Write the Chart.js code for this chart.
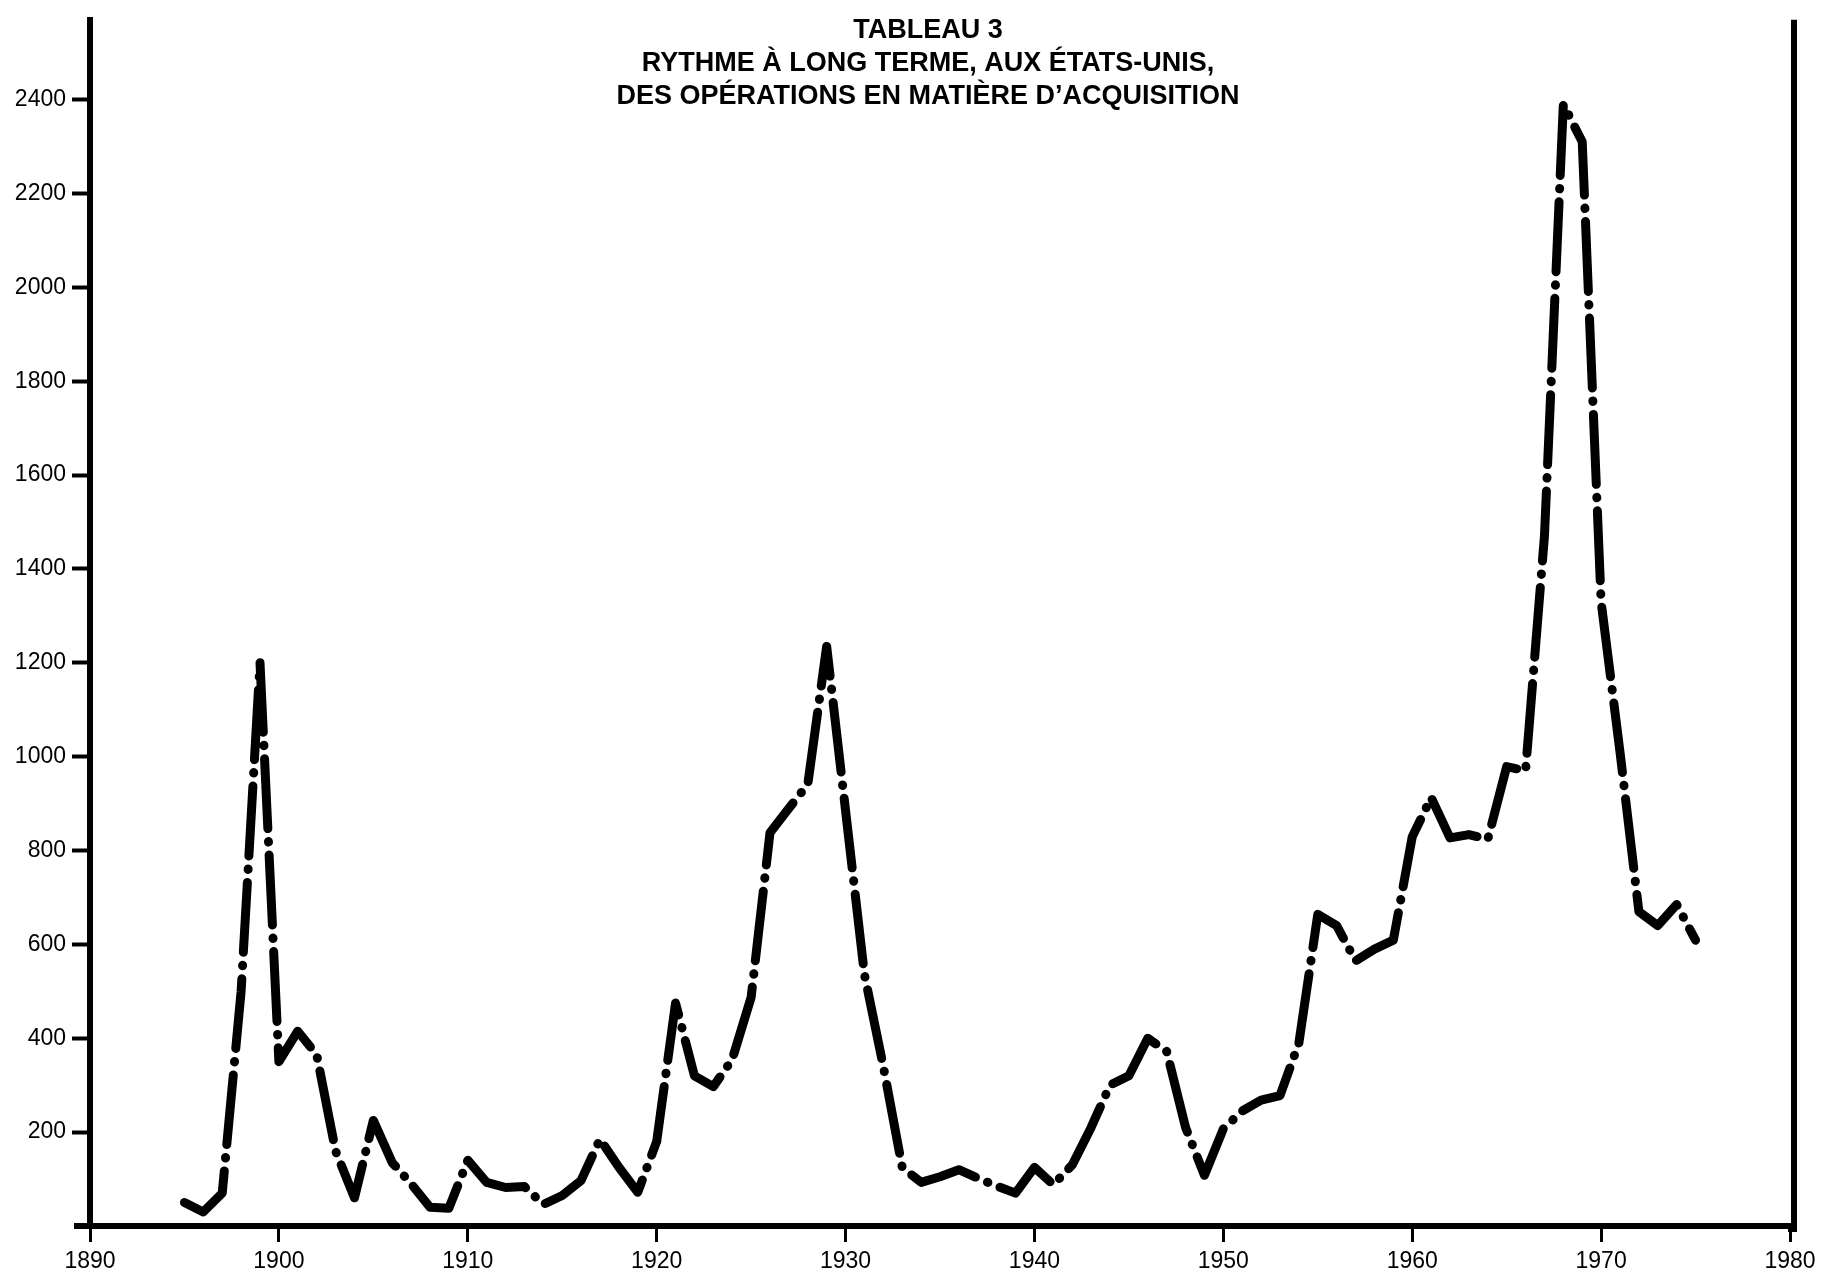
<!DOCTYPE html>
<html>
<head>
<meta charset="utf-8">
<title>Tableau 3</title>
<script src="https://cdn.jsdelivr.net/npm/chart.js@4/dist/chart.umd.min.js"></script>
<style>
  html, body { margin: 0; padding: 0; background: #fff; }
  canvas { display: block; }
</style>
</head>
<body>
<canvas id="chart" width="1834" height="1282"></canvas>
<script>
const titleLines = ["TABLEAU 3", "RYTHME À LONG TERME, AUX ÉTATS-UNIS,", "DES OPÉRATIONS EN MATIÈRE D’ACQUISITION"]

const years = [
    1895, 1896, 1897, 1898, 1899, 1900, 1901, 1902, 1903, 1904,
    1905, 1906, 1907, 1908, 1909, 1910, 1911, 1912, 1913, 1914,
    1915, 1916, 1917, 1918, 1919, 1920, 1921, 1922, 1923, 1924,
    1925, 1926, 1927, 1928, 1929, 1930, 1931, 1932, 1933, 1934,
    1935, 1936, 1937, 1938, 1939, 1940, 1941, 1942, 1943, 1944,
    1945, 1946, 1947, 1948, 1949, 1950, 1951, 1952, 1953, 1954,
    1955, 1956, 1957, 1958, 1959, 1960, 1961, 1962, 1963, 1964,
    1965, 1966, 1967, 1968, 1969, 1970, 1971, 1972, 1973, 1974,
    1975
]

const acquisitions = [
    50, 30, 70, 500, 1200, 350, 415, 365, 160, 60,
    225, 135, 90, 40, 38, 140, 93, 82, 84, 46,
    65, 97, 185, 125, 72, 180, 475, 320, 297, 355,
    487, 838, 890, 941, 1235, 885, 536, 340, 125, 93,
    105, 120, 102, 85, 70, 125, 88, 130, 210, 300,
    320, 400, 372, 210, 108, 207, 245, 268, 278, 390,
    664, 640, 565, 590, 609, 829, 913, 827, 834, 824,
    979, 970, 1470, 2390, 2310, 1330, 1010, 670, 640, 685,
    609
]

const xTicks = [1890, 1900, 1910, 1920, 1930, 1940, 1950, 1960, 1970, 1980]
const yTicks = [200, 400, 600, 800, 1000, 1200, 1400, 1600, 1800, 2000, 2200, 2400]

const points = years.map((year, i) => ({ x: year, y: acquisitions[i] }))

// right border, short stub of the base line and the title
const frame = {
    id: "frame",
    afterDraw(chart) {
        const { ctx, chartArea } = chart
        ctx.save()
        ctx.strokeStyle = "#000"
        ctx.lineWidth = 6
        ctx.beginPath()
        ctx.moveTo(chartArea.right + 4, chartArea.top)
        ctx.lineTo(chartArea.right + 4, chartArea.bottom + 3)
        ctx.lineTo(chartArea.right - 2, chartArea.bottom + 3)
        ctx.moveTo(chartArea.left - 16, chartArea.bottom)
        ctx.lineTo(chartArea.left, chartArea.bottom)
        ctx.stroke()

        ctx.fillStyle = "#000"
        ctx.font = 'bold 27px "Liberation Sans", Arial, sans-serif'
        ctx.textAlign = "center"
        ctx.textBaseline = "middle"
        const cx = (chartArea.left + chartArea.right) / 2 - 12
        const offsets = [11, 44, 77]
        titleLines.forEach((line, i) => ctx.fillText(line, cx, chartArea.top + offsets[i]))
        ctx.restore()
    }
}

const tickFont = { family: "Liberation Sans", size: 23 }

new Chart(document.getElementById("chart"), {
    type: "line",
    data: {
        datasets: [{
            label: "Opérations d’acquisition",
            data: points,
            borderColor: "#000",
            borderWidth: 9,
            borderDash: [70, 13, 0.5, 13],
            borderCapStyle: "round",
            borderJoinStyle: "round",
            pointRadius: 0,
            tension: 0,
            fill: false
        }]
    },
    options: {
        responsive: false,
        animation: false,
        devicePixelRatio: 1,
        layout: { padding: { left: 0, right: 44, top: 8, bottom: 0 } },
        plugins: {
            legend: { display: false },
            tooltip: { enabled: false }
        },
        scales: {
            x: {
                type: "linear",
                min: 1890,
                max: 1980,
                afterBuildTicks: s => { s.ticks = xTicks.map(v => ({ value: v })) },
                afterFit: s => { s.height = 56 },
                border: { color: "#000", width: 6 },
                grid: { drawOnChartArea: false, tickLength: 16, tickWidth: 3, tickColor: "#000" },
                ticks: { color: "#000", font: tickFont, padding: 6, maxRotation: 0, callback: v => String(v) }
            },
            y: {
                min: 0,
                max: 2570,
                afterBuildTicks: s => { s.ticks = yTicks.map(v => ({ value: v })) },
                afterFit: s => { s.width = 90 },
                border: { color: "#000", width: 6 },
                grid: { drawOnChartArea: false, tickLength: 18, tickWidth: 4, tickColor: "#000" },
                ticks: { color: "#000", font: tickFont, padding: 6, callback: v => String(v) }
            }
        }
    },
    plugins: [frame]
})
</script>
</body>
</html>
